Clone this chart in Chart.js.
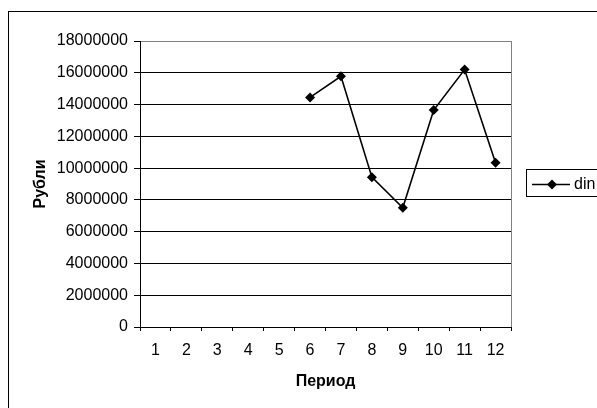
<!DOCTYPE html>
<html>
<head>
<meta charset="utf-8">
<script src="https://cdn.jsdelivr.net/npm/chart.js@4/dist/chart.umd.min.js"></script>
<style>
  html, body { margin: 0; padding: 0; background: #ffffff; }
  #wrap { width: 597px; height: 408px; position: relative; }
</style>
</head>
<body>
<div id="wrap"><canvas id="c" width="597" height="408"></canvas></div>
<script>
// Periods 1..12 and the "din" series (roubles); periods 1-5 have no value
const periods = ['1', '2', '3', '4', '5', '6', '7', '8', '9', '10', '11', '12'];
const dinValues = [null, null, null, null, null, 14450000, 15780000, 9430000, 7500000, 13650000, 16200000, 10330000];
const seriesName = 'din';
const yMin = 0;
const yMax = 18000000;
const yStep = 2000000;
const xTitle = 'Период';
const yTitle = 'Рубли';

const FONT = '"Liberation Sans", Arial, sans-serif';

// Frame around the whole chart, plot-area border and the legend box
const framePlugin = {
  id: 'frames',
  beforeDraw(chart) {
    const ctx = chart.ctx;
    ctx.save();
    ctx.fillStyle = '#ffffff';
    ctx.fillRect(0, 0, chart.width, chart.height);
    ctx.strokeStyle = '#000000';
    ctx.lineWidth = 1;
    ctx.strokeRect(8.5, 11.5, 800, 600);
    ctx.restore();
  },
  afterDraw(chart) {
    const ctx = chart.ctx;
    const a = chart.chartArea;
    ctx.save();
    // grey right edge of the plot area
    ctx.strokeStyle = '#808080';
    ctx.lineWidth = 1;
    ctx.beginPath();
    ctx.moveTo(Math.round(a.right) + 0.5, Math.round(a.top));
    ctx.lineTo(Math.round(a.right) + 0.5, Math.round(a.bottom));
    ctx.stroke();

    // legend
    const ds = chart.data.datasets[0];
    const lx = 526.5, ly = 169.5, ly2 = 196.5;
    ctx.strokeStyle = '#000000';
    ctx.strokeRect(lx, ly, 200, ly2 - ly);
    const cy = 184.5;
    ctx.beginPath();
    ctx.lineWidth = 1.5;
    ctx.moveTo(532, cy);
    ctx.lineTo(570, cy);
    ctx.stroke();
    ctx.fillStyle = '#000000';
    ctx.beginPath();
    ctx.moveTo(552, cy - 5);
    ctx.lineTo(557, cy);
    ctx.lineTo(552, cy + 5);
    ctx.lineTo(547, cy);
    ctx.closePath();
    ctx.fill();
    ctx.font = '16px ' + FONT;
    ctx.textBaseline = 'middle';
    ctx.textAlign = 'left';
    ctx.fillText(ds.label, 574, cy);
    ctx.restore();
  }
};

new Chart(document.getElementById('c'), {
  type: 'line',
  data: {
    labels: periods,
    datasets: [{
      label: seriesName,
      data: dinValues,
      borderColor: '#000000',
      backgroundColor: '#000000',
      borderWidth: 1.6,
      pointStyle: 'rectRot',
      pointRadius: 5,
      pointBorderWidth: 0,
      pointBackgroundColor: '#000000',
      spanGaps: false,
      tension: 0
    }]
  },
  options: {
    responsive: false,
    animation: false,
    devicePixelRatio: 1,
    layout: { padding: { left: 0, top: 41, right: 86, bottom: 0 } },
    plugins: {
      legend: { display: false },
      tooltip: { enabled: false }
    },
    scales: {
      x: {
        type: 'category',
        offset: true,
        grid: {
          offset: true,
          drawOnChartArea: false,
          drawTicks: true,
          tickLength: 4,
          tickColor: '#000000'
        },
        border: { display: true, color: '#000000', width: 1 },
        ticks: {
          color: '#000000',
          font: { family: FONT, size: 16 },
          padding: 10,
          maxRotation: 0,
          autoSkip: false
        },
        title: {
          display: true,
          text: xTitle,
          color: '#000000',
          font: { family: FONT, size: 16, weight: 'bold' },
          padding: { top: 0, bottom: 17 }
        },
        afterFit(scale) { scale.height = 81; }
      },
      y: {
        min: yMin,
        max: yMax,
        grid: {
          color: (c) => (c.tick && c.tick.value === yMax) ? '#808080' : '#000000',
          tickColor: '#000000',
          tickLength: 6,
          lineWidth: 1
        },
        border: { display: true, color: '#000000', width: 1 },
        ticks: {
          stepSize: yStep,
          color: '#000000',
          font: { family: FONT, size: 16 },
          padding: 6,
          callback: (v) => String(v)
        },
        title: {
          display: true,
          text: yTitle,
          color: '#000000',
          font: { family: FONT, size: 16, weight: 'bold' },
          padding: { top: 31, bottom: 0 }
        },
        afterFit(scale) { scale.width = 140; }
      }
    }
  },
  plugins: [framePlugin]
});
</script>
</body>
</html>
